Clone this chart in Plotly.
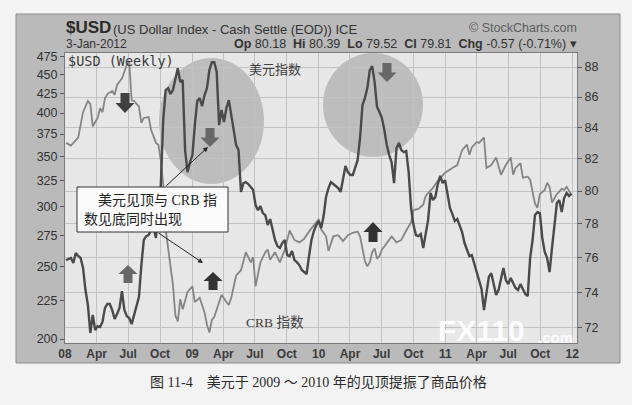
import pandas as pd
import plotly.graph_objects as go

# weekly bars, the first one closes on Friday 2008-01-04
START = "2008-01-04"

# $USD weekly close (right scale), one value per week
USD_CLOSE = [
    75.86, 75.90, 75.98, 75.69, 76.27, 76.10, 75.98, 75.40, 74.13, 73.28,
    71.72, 72.72, 71.88, 72.10, 72.05, 72.33, 73.11, 73.34, 73.34, 73.00,
    72.50, 72.78, 73.11, 74.07, 73.00, 72.66, 72.55, 72.21, 72.72, 73.28,
    73.73, 75.57, 77.04, 77.27, 77.33, 77.63, 77.81, 77.16, 78.53, 80.37,
    84.49, 86.46, 86.59, 86.20, 86.46, 87.26, 87.93, 86.99, 87.13, 82.56,
    81.17, 81.79, 82.24, 84.16, 85.73, 85.93, 85.40, 86.13, 86.59, 87.80,
    88.33, 88.33, 87.67, 84.16, 85.14, 84.36, 85.27, 85.79, 84.81, 83.71,
    82.88, 82.56, 79.94, 80.49, 80.55, 80.43, 80.24, 80.06, 79.14, 78.83,
    79.08, 78.65, 78.53, 77.93, 78.29, 77.63, 77.04, 76.68, 76.57, 76.86,
    77.04, 76.15, 76.09, 76.39, 75.86, 75.74, 75.57, 75.28, 75.16, 75.05,
    76.09, 77.04, 77.57, 77.93, 78.17, 77.75, 78.47, 79.63, 80.18, 80.55,
    80.43, 80.30, 80.18, 79.94, 80.67, 81.55, 81.17, 80.99, 80.99, 81.42,
    81.92, 83.33, 85.47, 85.93, 86.59, 87.80, 88.07, 86.99, 85.34, 85.01,
    84.62, 83.84, 82.88, 82.24, 81.79, 80.49, 82.69, 83.01, 82.56, 82.43,
    82.50, 81.17, 78.96, 77.93, 77.33, 77.27, 77.39, 76.57, 77.51, 78.23,
    79.88, 79.44, 79.63, 80.43, 80.93, 80.49, 80.67, 79.75, 78.96, 78.59,
    78.17, 78.29, 77.93, 77.51, 76.86, 76.45, 76.09, 76.15, 75.63, 75.16,
    74.70, 74.19, 73.00, 74.02, 74.88, 75.10, 74.53, 73.85, 74.13, 74.88,
    75.40, 74.70, 74.47, 74.82, 74.53, 74.25, 74.13, 74.47, 74.19, 73.90,
    73.79, 75.98, 77.04, 78.53, 78.71, 78.65, 77.16, 76.33, 75.98, 75.16,
    76.57, 77.93, 79.26, 79.44, 78.71, 79.57, 79.88, 79.69, 79.82,
]

# CRB index (left scale), read at these week numbers
CRB_WEEK = [
    0, 2, 5, 7, 9, 10, 11, 13, 14, 15, 16, 17, 19, 20, 21, 23, 24, 25, 26, 27,
    28, 30, 31, 32, 34, 35, 37, 38, 39, 40, 41, 42, 43, 44, 45, 46, 47, 48, 50, 52,
    53, 55, 57, 58, 59, 60, 61, 63, 64, 66, 67, 68, 69, 70, 72, 74, 76, 77, 78, 80,
    82, 83, 84, 86, 88, 90, 92, 94, 96, 98, 100, 102, 104, 105, 107, 108, 110, 112, 114, 116,
    118, 120, 121, 122, 123, 124, 125, 126, 127, 128, 129, 130, 132, 134, 136, 138, 140, 142, 143, 145,
    147, 148, 149, 151, 153, 155, 156, 159, 161, 163, 165, 166, 167, 169, 170, 171, 172, 173, 175, 177,
    178, 179, 181, 183, 184, 185, 187, 188, 190, 191, 193, 194, 195, 197, 198, 199, 200, 201, 202, 204,
    205, 206, 208,
]
CRB_CLOSE = [
    365, 362, 371, 401, 415, 411, 384, 394, 406, 401, 418, 424, 428, 423, 436, 445, 454, 464, 468, 416,
    415, 408, 388, 394, 395, 380, 365, 363, 346, 321, 280, 263, 249, 236, 215, 211, 226, 219, 231, 235,
    224, 227, 217, 209, 204, 212, 214, 224, 229, 224, 222, 227, 235, 243, 247, 261, 253, 257, 235, 253,
    261, 263, 255, 261, 253, 263, 279, 271, 269, 272, 278, 283, 289, 280, 274, 262, 274, 275, 270, 275,
    277, 278, 274, 264, 254, 250, 253, 261, 264, 256, 258, 263, 269, 274, 269, 271, 279, 286, 297, 298,
    302, 310, 313, 318, 325, 330, 333, 338, 341, 357, 363, 352, 360, 366, 365, 368, 371, 338, 341, 349,
    341, 331, 341, 349, 331, 338, 343, 328, 329, 326, 303, 299, 312, 316, 323, 319, 304, 308, 312, 317,
    316, 319, 311,
]

CRB_TICKS = [200, 225, 250, 275, 300, 325, 350, 375, 400, 425, 450, 475]
USD_TICKS = [72, 74, 76, 78, 80, 82, 84, 86, 88]
X_TICKS = ["2008-01-01", "2008-04-01", "2008-07-01", "2008-10-01",
           "2009-01-01", "2009-04-01", "2009-07-01", "2009-10-01",
           "2010-01-01", "2010-04-01", "2010-07-01", "2010-10-01",
           "2011-01-01", "2011-04-01", "2011-07-01", "2011-10-01",
           "2012-01-01"]
X_LABELS = ["08", "Apr", "Jul", "Oct", "09", "Apr", "Jul", "Oct",
            "10", "Apr", "Jul", "Oct", "11", "Apr", "Jul", "Oct", "12"]

assert len(CRB_WEEK) == len(CRB_CLOSE)

start = pd.Timestamp(START)
usd_dates = pd.date_range(start, periods=len(USD_CLOSE), freq="7D")
crb_dates = [start + pd.Timedelta(weeks=w) for w in CRB_WEEK]

# plot box in page pixels, used to place the decorations
W, H = 632, 405
L, R, T, B = 65, 577, 53, 343


def px(x):
    return (x - L) / (R - L)


def py(y):
    return (B - y) / (B - T)


def block_arrow(cx, top, bottom, down=True, sw=9, hw=19):
    # fat arrow outline in page pixels -> paper path
    head = (bottom - top) * 0.5
    if down:
        pts = [(cx - sw / 2, top), (cx + sw / 2, top), (cx + sw / 2, bottom - head),
               (cx + hw / 2, bottom - head), (cx, bottom), (cx - hw / 2, bottom - head),
               (cx - sw / 2, bottom - head)]
    else:
        pts = [(cx - sw / 2, bottom), (cx + sw / 2, bottom), (cx + sw / 2, top + head),
               (cx + hw / 2, top + head), (cx, top), (cx - hw / 2, top + head),
               (cx - sw / 2, top + head)]
    return "M " + " L ".join(f"{px(x):.4f},{py(y):.4f}" for x, y in pts) + " Z"


fig = go.Figure()

fig.add_trace(go.Scatter(
    x=crb_dates, y=CRB_CLOSE, mode="lines", yaxis="y",
    line=dict(color="#858585", width=1.8), name="CRB",
))
fig.add_trace(go.Scatter(
    x=usd_dates, y=USD_CLOSE, mode="lines", yaxis="y2",
    line=dict(color="#4a4a4a", width=2.4), name="$USD",
))

shapes = [
    # grey StockCharts frame and the light plot area
    dict(type="rect", xref="paper", yref="paper", layer="below",
         x0=px(16), x1=px(620), y0=py(363), y1=py(14),
         fillcolor="#bababa", line=dict(color="#8c8c8c", width=1)),
    dict(type="rect", xref="paper", yref="paper", layer="below",
         x0=0, x1=1, y0=0, y1=1, fillcolor="#e7e7e7", line=dict(width=0)),
    # highlight circles
    dict(type="circle", xref="paper", yref="paper", layer="below",
         x0=px(159), x1=px(264), y0=py(184), y1=py(58),
         fillcolor="#bdbdbd", line=dict(width=0)),
    dict(type="circle", xref="paper", yref="paper", layer="below",
         x0=px(323), x1=px(423), y0=py(157), y1=py(53),
         fillcolor="#bdbdbd", line=dict(width=0)),
    # note box
    dict(type="rect", xref="paper", yref="paper", layer="above",
         x0=px(77), x1=px(228), y0=py(232), y1=py(187),
         fillcolor="#fbfbfb", line=dict(color="#333333", width=1)),
]

arrows = [
    (125, 93, 113, True, "#404040"),
    (210, 128, 147, True, "#686868"),
    (387, 63, 82, True, "#686868"),
    (128, 265, 283, False, "#686868"),
    (213, 272, 290, False, "#333333"),
    (373, 222, 242, False, "#333333"),
]
for cx, top, bottom, down, col in arrows:
    shapes.append(dict(type="path", xref="paper", yref="paper", layer="above",
                       path=block_arrow(cx, top, bottom, down),
                       fillcolor=col, line=dict(width=0)))

HDR = "Liberation Sans, Arial, sans-serif"
CJK = "Liberation Serif, Noto Sans CJK SC, serif"


def note(x, y, text, size=12, color="#333333", family=HDR, anchor="left", **kw):
    return dict(xref="paper", yref="paper", x=px(x), y=py(y), text=text,
                showarrow=False, xanchor=anchor, yanchor="middle",
                font=dict(family=family, size=size, color=color), **kw)


annotations = [
    note(64, 28, "<b>$USD</b>", size=17, color="#2b2b2b"),
    note(111, 29, "(US Dollar Index - Cash Settle (EOD)) ICE", size=13, color="#333333"),
    note(579, 28, "© StockCharts.com", size=12.5, color="#5e5e5e", anchor="right"),
    note(64, 44, "3-Jan-2012", size=12, color="#333333"),
    note(579, 44, "<b>Op</b> 80.18  <b>Hi</b> 80.39  <b>Lo</b> 79.52  <b>Cl</b> 79.81  "
                  "<b>Chg</b> -0.57 (-0.71%) ▾", size=12.5, color="#333333", anchor="right"),
    note(66, 61, "$USD (Weekly)", size=13.5, color="#3a3a3a",
         family="DejaVu Sans Mono, monospace"),
    note(247, 69, "美元指数", size=13, color="#404040", family=CJK),
    note(244, 322, "CRB 指数", size=13.5, color="#404040", family=CJK),
    note(96, 200, "美元见顶与 CRB 指", size=14, color="#222222", family=CJK),
    note(82, 220, "数见底同时出现", size=14, color="#222222", family=CJK),
    note(318, 382, "图 11-4    美元于 2009 ～ 2010 年的见顶提振了商品价格",
         size=14, color="#2a2a2a", family=CJK, anchor="center"),
    note(436, 330, "<b>FX110</b>", size=30, color="rgba(255,255,255,0.88)"),
    note(536, 337, "<b>.com</b>", size=15, color="rgba(255,255,255,0.88)"),
    # thin pointers from the note box
    dict(xref="paper", yref="paper", x=px(208), y=py(147), ax=-43, ay=40,
         axref="pixel", ayref="pixel", text="", showarrow=True,
         arrowhead=2, arrowsize=1, arrowwidth=1, arrowcolor="#222222"),
    dict(xref="paper", yref="paper", x=px(203), y=py(263), ax=-46, ay=-31,
         axref="pixel", ayref="pixel", text="", showarrow=True,
         arrowhead=2, arrowsize=1, arrowwidth=1, arrowcolor="#222222"),
]

grid = "#c2c2c2"
axis_line = "#7a7a7a"
tick_font = dict(family=HDR, size=12.5, color="#333333")

fig.update_layout(
    width=W, height=H, autosize=False,
    margin=dict(l=L, r=W - R, t=T, b=H - B, pad=0),
    paper_bgcolor="#f3f3f3",
    plot_bgcolor="rgba(0,0,0,0)",
    showlegend=False,
    shapes=shapes,
    annotations=annotations,
    xaxis=dict(
        type="date", range=["2008-01-01", "2012-01-15"],
        tickvals=X_TICKS, ticktext=[f"<b>{t}</b>" for t in X_LABELS],
        tickfont=dict(family=HDR, size=12, color="#3a3a3a"),
        showgrid=True, gridcolor=grid, gridwidth=1, zeroline=False,
        showline=True, linecolor=axis_line, mirror=True, ticks="",
        automargin=False,
    ),
    # both scales are logarithmic, ranges set so the ticks sit where the picture has them
    yaxis=dict(
        type="log", range=[2.2957, 2.6820], side="left",
        tickvals=CRB_TICKS, ticktext=[str(v) for v in CRB_TICKS],
        tickfont=tick_font, showgrid=False, zeroline=False,
        ticks="outside", ticklen=4, tickcolor="#555555",
        showline=True, linecolor=axis_line, automargin=False,
    ),
    yaxis2=dict(
        type="log", range=[1.8523, 1.9492], side="right", overlaying="y",
        tickvals=USD_TICKS, ticktext=[str(v) for v in USD_TICKS],
        tickfont=tick_font, showgrid=True, gridcolor=grid, gridwidth=1,
        zeroline=False, ticks="outside", ticklen=4, tickcolor="#555555",
        showline=True, linecolor=axis_line, automargin=False,
    ),
)

# the page's default 8px body margin would shift the whole figure
fig.write_html("out.html", config={"displayModeBar": False},
               post_script="document.body.style.margin='0';")
